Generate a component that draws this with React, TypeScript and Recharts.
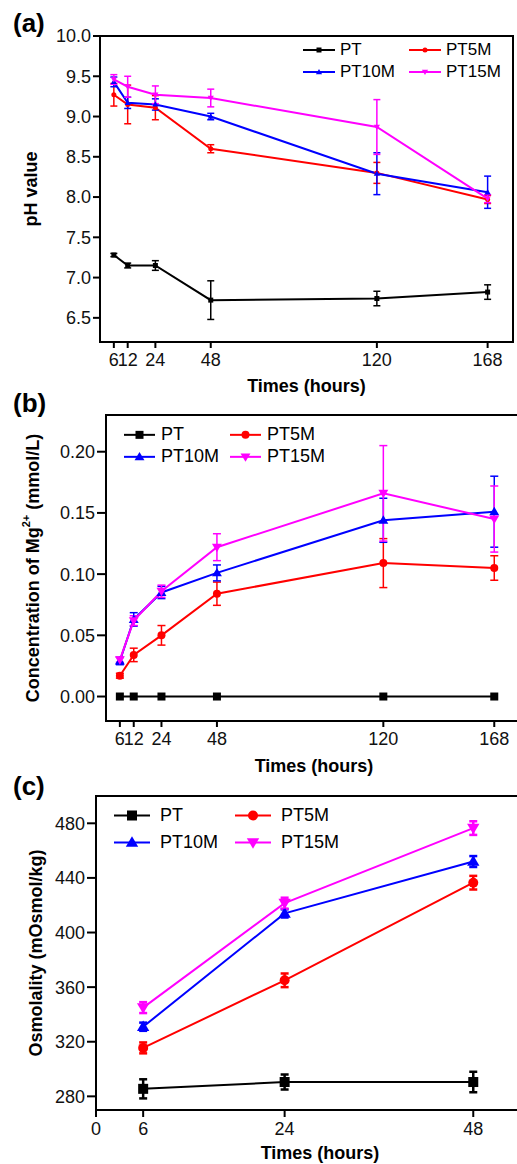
import React from 'react';
import { LineChart, Line, XAxis, YAxis, ErrorBar, Legend, ReferenceArea } from 'recharts';

// ── data ─────────────────────────────────────────────────────────────────────

const HOURS = [6, 12, 24, 48, 120, 168];
const OSM_HOURS = [6, 24, 48];

const PH_PT = [7.28, 7.15, 7.15, 6.72, 6.74, 6.82];
const PH_PT_ERR = [0.02, 0.03, 0.06, 0.24, 0.09, 0.09];
const PH_PT5M = [9.27, 9.15, 9.11, 8.6, 8.3, 7.97];
const PH_PT5M_ERR = [0.14, 0.24, 0.15, 0.05, 0.13, 0.05];
const PH_PT10M = [9.43, 9.17, 9.15, 9.0, 8.29, 8.06];
const PH_PT10M_ERR = [0.06, 0.07, 0.07, 0.04, 0.26, 0.2];
const PH_PT15M = [9.46, 9.37, 9.27, 9.23, 8.87, 7.98];
const PH_PT15M_ERR = [0.06, 0.13, 0.11, 0.11, 0.34, 0.05];

const MG_PT = [0, 0, 0, 0, 0, 0];
const MG_PT_ERR = [0, 0, 0, 0, 0, 0];
const MG_PT5M = [0.017, 0.034, 0.05, 0.084, 0.109, 0.105];
const MG_PT5M_ERR = [0.002, 0.0055, 0.008, 0.0095, 0.02, 0.01];
const MG_PT10M = [0.029, 0.063, 0.085, 0.101, 0.144, 0.151];
const MG_PT10M_ERR = [0.003, 0.0055, 0.005, 0.0065, 0.018, 0.029];
const MG_PT15M = [0.03, 0.062, 0.086, 0.122, 0.166, 0.145];
const MG_PT15M_ERR = [0.002, 0.004, 0.005, 0.011, 0.039, 0.027];

const OSM_PT = [285.5, 290.5, 290.5];
const OSM_PT_ERR = [7, 5.5, 7.5];
const OSM_PT5M = [315.5, 365, 436.5];
const OSM_PT5M_ERR = [4, 5, 5];
const OSM_PT10M = [331, 414, 452];
const OSM_PT10M_ERR = [3, 3, 4];
const OSM_PT15M = [345, 421.5, 476.5];
const OSM_PT15M_ERR = [4, 4, 5];

const PH_TICKS = [6.5, 7.0, 7.5, 8.0, 8.5, 9.0, 9.5, 10.0];
const MG_TICKS = [0, 0.05, 0.1, 0.15, 0.2];
const OSM_TICKS = [280, 320, 360, 400, 440, 480];
const OSM_X_TICKS = [0, 6, 24, 48];

const SERIES = [
  { key: 'PT', color: '#000000', shape: 'square' },
  { key: 'PT5M', color: '#ff0000', shape: 'circle' },
  { key: 'PT10M', color: '#0000ff', shape: 'up' },
  { key: 'PT15M', color: '#ff00ff', shape: 'down' },
];

function buildRows(hours: number[], vals: number[][], errs: number[][]) {
  return hours.map((t, i) => {
    const row: any = { t };
    SERIES.forEach((s, j) => {
      row[s.key] = vals[j][i];
      row[s.key + 'Err'] = errs[j][i];
    });
    return row;
  });
}

const PH_ROWS = buildRows(HOURS, [PH_PT, PH_PT5M, PH_PT10M, PH_PT15M], [PH_PT_ERR, PH_PT5M_ERR, PH_PT10M_ERR, PH_PT15M_ERR]);
const MG_ROWS = buildRows(HOURS, [MG_PT, MG_PT5M, MG_PT10M, MG_PT15M], [MG_PT_ERR, MG_PT5M_ERR, MG_PT10M_ERR, MG_PT15M_ERR]);
const OSM_ROWS = buildRows(OSM_HOURS, [OSM_PT, OSM_PT5M, OSM_PT10M, OSM_PT15M], [OSM_PT_ERR, OSM_PT5M_ERR, OSM_PT10M_ERR, OSM_PT15M_ERR]);

// ── markers / legend ─────────────────────────────────────────────────────────

function Marker({ shape, cx, cy, size, color }: any) {
  const h = size / 2;
  if (shape === 'square') return <rect x={cx - h} y={cy - h} width={size} height={size} fill={color} />;
  if (shape === 'circle') return <circle cx={cx} cy={cy} r={h} fill={color} />;
  const s = size * 0.62;
  if (shape === 'up') {
    return <path d={`M${cx},${cy - s}L${cx + s},${cy + s * 0.7}L${cx - s},${cy + s * 0.7}Z`} fill={color} />;
  }
  return <path d={`M${cx},${cy + s}L${cx + s},${cy - s * 0.7}L${cx - s},${cy - s * 0.7}Z`} fill={color} />;
}

const dotFor = (shape: string, size: number, color: string) => (props: any) => (
  <Marker key={`d${props.index}`} shape={shape} cx={props.cx} cy={props.cy} size={size} color={color} />
);

const legendContent = (o: any) => () => (
  <div
    style={{
      display: 'grid',
      gridTemplateColumns: `${o.colW}px ${o.colW}px`,
      fontSize: o.fontSize,
      color: '#000',
      lineHeight: `${o.rowH}px`,
    }}
  >
    {SERIES.map((s) => (
      <div key={s.key} style={{ display: 'flex', alignItems: 'center', height: o.rowH }}>
        <svg width={o.lineW} height={o.rowH} style={{ display: 'block', flex: 'none' }}>
          <line x1={0} x2={o.lineW} y1={o.rowH / 2} y2={o.rowH / 2} stroke={s.color} strokeWidth={2} />
          <Marker shape={s.shape} cx={o.lineW / 2} cy={o.rowH / 2} size={o.marker} color={s.color} />
        </svg>
        <span style={{ marginLeft: o.gap, whiteSpace: 'nowrap' }}>{s.key}</span>
      </div>
    ))}
  </div>
);

// ── axis titles ──────────────────────────────────────────────────────────────

const yTitle = (x: number, body: React.ReactNode) => ({
  content: ({ viewBox }: any) => {
    const cy = viewBox.y + viewBox.height / 2;
    return (
      <text
        x={x}
        y={cy}
        transform={`rotate(-90 ${x} ${cy})`}
        textAnchor="middle"
        dominantBaseline="central"
        fontSize={18}
        fontWeight="bold"
        fill="#000"
      >
        {body}
      </text>
    );
  },
});

const xTitle = (dy: number) => ({
  content: ({ viewBox }: any) => (
    <text
      x={viewBox.x + viewBox.width / 2}
      y={viewBox.y + dy}
      textAnchor="middle"
      fontSize={18}
      fontWeight="bold"
      fill="#000"
    >
      Times (hours)
    </text>
  ),
});

const AXIS = { stroke: '#000', strokeWidth: 2 };
const TICK = { fill: '#111', fontSize: 18 };

// ── one panel ────────────────────────────────────────────────────────────────

function Panel(p: any) {
  return (
    <div style={{ position: 'absolute', left: 0, top: p.top, width: 517, height: p.boxH, overflow: 'hidden' }}>
      <LineChart width={p.width} height={p.boxH} data={p.rows} margin={p.margin}>
        <ReferenceArea
          x1={p.xDomain[0]}
          x2={p.xDomain[1]}
          y1={p.yDomain[0]}
          y2={p.yDomain[1]}
          fill="none"
          stroke="#000"
          strokeWidth={2}
          fillOpacity={0}
          ifOverflow="visible"
        />
        <XAxis
          dataKey="t"
          type="number"
          domain={p.xDomain}
          ticks={p.xTicks}
          interval={0}
          allowDataOverflow
          height={p.xAxisH}
          axisLine={AXIS}
          tickLine={AXIS}
          tickSize={p.xTickSize}
          tickMargin={5}
          tick={TICK}
          label={xTitle(p.xTitleDy)}
        />
        <YAxis
          type="number"
          domain={p.yDomain}
          ticks={p.yTicks}
          interval={0}
          allowDataOverflow
          width={p.yAxisW}
          axisLine={AXIS}
          tickLine={AXIS}
          tickSize={p.yTickSize}
          tickMargin={2}
          tick={TICK}
          tickFormatter={(v: number) => v.toFixed(p.digits)}
          label={yTitle(p.yTitleX, p.yTitle)}
        />
        <Legend
          layout="vertical"
          align="center"
          verticalAlign="middle"
          wrapperStyle={{ top: p.legend.top, left: p.legend.left, width: 'auto' }}
          content={legendContent(p.legend)}
        />
        {SERIES.map((s) => (
          <Line
            key={s.key}
            type="linear"
            dataKey={s.key}
            stroke={s.color}
            strokeWidth={2}
            dot={dotFor(s.shape, p.marker, s.color)}
            activeDot={false}
            isAnimationActive={false}
          >
            {p.rows.some((r: any) => r[s.key + 'Err'] > 0) && (
              <ErrorBar
                dataKey={s.key + 'Err'}
                direction="y"
                width={p.cap}
                strokeWidth={p.errW}
                stroke={s.color}
                isAnimationActive={false}
              />
            )}
          </Line>
        ))}
      </LineChart>
    </div>
  );
}

const TAG = { position: 'absolute' as const, left: 13, fontSize: 26, lineHeight: '26px', fontWeight: 'bold' as const, color: '#000' };

export default function App() {
  return (
    <div
      style={{
        position: 'absolute',
        left: 0,
        top: 0,
        width: 517,
        height: 1164,
        overflow: 'hidden',
        background: '#fff',
        fontFamily: '"Liberation Sans", Arial, sans-serif',
      }}
    >
      <Panel
        top={0}
        boxH={400}
        width={517}
        rows={PH_ROWS}
        margin={{ top: 36, right: 4, left: 0, bottom: 0 }}
        yAxisW={100}
        xAxisH={58}
        xDomain={[0, 179]}
        xTicks={HOURS}
        yDomain={[6.2, 10]}
        yTicks={PH_TICKS}
        digits={1}
        xTickSize={6}
        yTickSize={7}
        marker={5}
        cap={3.5}
        errW={1.5}
        yTitleX={31}
        yTitle="pH value"
        xTitleDy={50}
        legend={{ top: 39, left: 303, colW: 106, rowH: 22, lineW: 32, gap: 5, marker: 5, fontSize: 17 }}
      />
      <Panel
        top={380}
        boxH={400}
        width={522}
        rows={MG_ROWS}
        margin={{ top: 35, right: 0, left: 0, bottom: 9 }}
        yAxisW={106}
        xAxisH={50}
        xDomain={[0, 180]}
        xTicks={HOURS}
        yDomain={[-0.02, 0.23]}
        yTicks={MG_TICKS}
        digits={2}
        xTickSize={6}
        yTickSize={9}
        marker={8}
        cap={4}
        errW={1.5}
        yTitleX={33}
        yTitle={
          <>
            Concentration of Mg
            <tspan dy={-7} fontSize={11}>2+</tspan>
            <tspan dy={7}> (mmol/L)</tspan>
          </>
        }
        xTitleDy={51}
        legend={{ top: 44, left: 124, colW: 106, rowH: 21.7, lineW: 31, gap: 6, marker: 8, fontSize: 18 }}
      />
      <Panel
        top={775}
        boxH={389}
        width={544}
        rows={OSM_ROWS}
        margin={{ top: 21, right: 0, left: 0, bottom: 0 }}
        yAxisW={96}
        xAxisH={54}
        xDomain={[0, 57]}
        xTicks={OSM_X_TICKS}
        yDomain={[270, 500]}
        yTicks={OSM_TICKS}
        digits={0}
        xTickSize={7}
        yTickSize={9}
        marker={10}
        cap={4}
        errW={2.5}
        yTitleX={36}
        yTitle="Osmolality (mOsmol/kg)"
        xTitleDy={49}
        legend={{ top: 26.5, left: 114, colW: 121, rowH: 27, lineW: 36, gap: 10, marker: 10, fontSize: 18 }}
      />
      <div style={{ ...TAG, top: 10 }}>(a)</div>
      <div style={{ ...TAG, top: 390 }}>(b)</div>
      <div style={{ ...TAG, top: 773 }}>(c)</div>
    </div>
  );
}
